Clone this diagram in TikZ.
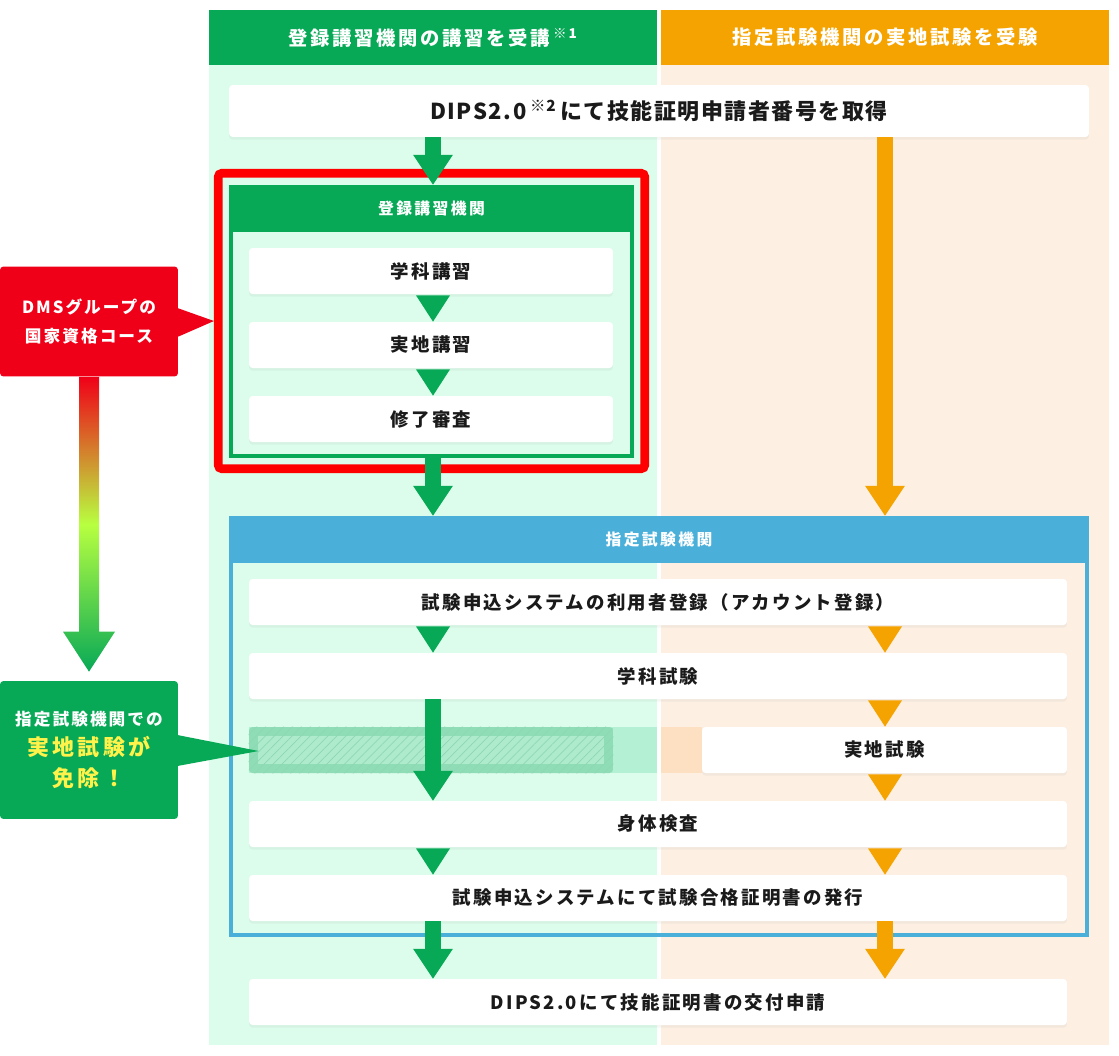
\documentclass[tikz,border=0pt]{standalone}
\usepackage{fontspec}
\setmainfont{Noto Sans CJK JP}
\usepackage{tikz}
\usetikzlibrary{arrows.meta, positioning, calc, shadows, patterns.meta}

\definecolor{kgreen}{HTML}{07A957}
\definecolor{kgreenbg}{HTML}{DCFDEB}
\definecolor{korange}{HTML}{F5A300}
\definecolor{korangebg}{HTML}{FDEFE2}
\definecolor{kblue}{HTML}{4AB0D9}
\definecolor{kred}{HTML}{FF0000}
\definecolor{knote}{HTML}{F00018}
\definecolor{klime}{HTML}{B8FF40}
\definecolor{kyellow}{HTML}{FFF24A}
\definecolor{kink}{HTML}{1A1A1A}
\definecolor{khatch}{HTML}{8EDDB6}
\definecolor{khatchin}{HTML}{AEEBCD}
\definecolor{kbandg}{HTML}{B3F0D4}
\definecolor{kbando}{HTML}{FDDFC1}

\newcommand\headfont{\fontsize{11pt}{12pt}\selectfont\bfseries\addfontfeatures{LetterSpace=14}}
\newcommand\titlefont{\fontsize{12.5pt}{14pt}\selectfont\bfseries\addfontfeatures{LetterSpace=7}}
\newcommand\cardfont{\fontsize{10.5pt}{12pt}\selectfont\bfseries\addfontfeatures{LetterSpace=12}}
\newcommand\groupfont{\fontsize{9pt}{11pt}\selectfont\bfseries\addfontfeatures{LetterSpace=15}}
\newcommand\notefont{\fontsize{9.5pt}{17pt}\selectfont\bfseries\addfontfeatures{LetterSpace=12}}
\newcommand\bignotefont{\fontsize{12.5pt}{17pt}\selectfont\bfseries\addfontfeatures{LetterSpace=14}}
\newcommand\kome[1]{\,\textsuperscript{#1}}
% small triangle between two cards
\newcommand\steptri[4]{\fill[#1] ($(#2 |- #3.south)+(-17,1)$) -- ($(#2 |- #3.south)+(17,1)$) -- (#2 |- #4.north) -- cycle;}

\begin{document}
\begin{tikzpicture}[
  x=0.02cm, y=-0.02cm,
  colhead/.style={minimum width=8.96cm, minimum height=1.1cm, inner sep=0pt, text=white, font=\headfont},
  card/.style={fill=white, rounded corners=2pt, minimum height=0.92cm, inner sep=0pt, text=kink, font=\cardfont,
    drop shadow={opacity=0.08, shadow xshift=0pt, shadow yshift=-1.5pt}},
  grouphead/.style={minimum height=0.94cm, inner sep=0pt, text=white, font=\groupfont},
  groupbox/.style={draw=#1, line width=2.1pt, inner sep=0pt},
  bigflow/.style={draw=#1, line width=9.07pt, -{Triangle[width=22.7pt, length=17pt, line width=0pt]}},
  callout/.style={rounded corners=2pt, minimum width=3.56cm, inner sep=0pt, text=white, align=center, font=\notefont},
]
\useasboundingbox (0,0) rectangle (1119,1055);

% Columns
\fill[kgreenbg] (209,64) rectangle (657,1045);
\fill[korangebg] (661,64) rectangle (1109,1045);
\node[colhead, fill=kgreen] (hg) at (433,37.5) {登録講習機関の講習を受講\kome{※1}};
\node[colhead, fill=korange] (ho) at (885,37.5) {指定試験機関の実地試験を受験};

\node[card, minimum width=17.2cm, minimum height=1.04cm, font=\titlefont] (dips) at (659,111) {DIPS2.0\kome{※2}\,にて技能証明申請者番号を取得};

% Registered course
\node[draw=kred, line width=4.93pt, rounded corners=2pt, minimum width=8.53cm, minimum height=5.91cm, inner sep=0pt] (dms) at (431.5,321) {};
\node[groupbox=kgreen, minimum width=8.03cm, minimum height=5.39cm] (reg) at (431.5,321.5) {};
\node[grouphead, fill=kgreen, minimum width=8.1cm] (regh) at (431.5,208.5) {登録講習機関};
\foreach \n/\y/\t in {c1/271/学科講習, c2/345/実地講習, c3/419/修了審査}
  \node[card, minimum width=7.28cm] (\n) at (431,\y) {\t};

% Examination body
\node[groupbox=kblue, line width=2.27pt, minimum width=17.12cm, minimum height=8.34cm] (test) at (659,726.5) {};
\node[grouphead, fill=kblue, minimum width=17.2cm] (testh) at (659,539.5) {指定試験機関};

\fill[kbandg] (249,727) rectangle (657,773);
\fill[kbando] (661,727) rectangle (702,773);
\node[fill=khatch, rounded corners=2pt, minimum width=7.28cm, minimum height=0.92cm, inner sep=0pt] (ex) at (431,750) {};
\fill[khatchin] (258,736) rectangle (604,764);
\fill[rounded corners=2pt, pattern={Lines[angle=45, distance=3.6pt, line width=0.4pt]}, pattern color=kgreen!45] (ex.north west) rectangle (ex.south east);

\foreach \n/\y/\t in {t1/602/試験申込システムの利用者登録（アカウント登録）, t2/676/学科試験, t4/824/身体検査, t5/898/試験申込システムにて試験合格証明書の発行}
  \node[card, minimum width=16.36cm] (\n) at (658,\y) {\t};
\node[card, minimum width=7.3cm] (t3) at (884.5,750) {実地試験};
\node[card, minimum width=16.36cm] (fin) at (658,1002) {DIPS2.0にて技能証明書の交付申請};

% Flow
\coordinate (gx) at (433,0);
\coordinate (ox) at (885,0);
\draw[bigflow=kgreen] (gx |- dips.south) -- (gx |- regh.north);
\draw[bigflow=korange] (ox |- dips.south) -- (ox |- testh.north);
\draw[bigflow=kgreen] (gx |- reg.south) -- (gx |- testh.north);
\draw[bigflow=kgreen] (gx |- t2.south) -- (gx |- t4.north);
\draw[bigflow=kgreen] (gx |- t5.south) -- (gx |- fin.north);
\draw[bigflow=korange] (ox |- t5.south) -- (ox |- fin.north);
\foreach \a/\b in {c1/c2, c2/c3, t1/t2, t4/t5} {\steptri{kgreen}{gx}{\a}{\b}}
\foreach \a/\b in {t1/t2, t2/t3, t3/t4, t4/t5} {\steptri{korange}{ox}{\a}{\b}}

% Callouts
\node[callout, fill=knote, minimum height=2.2cm] (dmsnote) at (89,321.5) {DMSグループの\\国家資格コース};
\fill[knote] ($(dmsnote.east)+(-1,-13.5)$) -- (dms.west) -- ($(dmsnote.east)+(-1,15.5)$) -- cycle;
\node[callout, fill=kgreen, minimum height=2.76cm] (exnote) at (89,750)
  {指定試験機関での\\{\bignotefont\color{kyellow}実地試験が}\\[1pt]{\bignotefont\color{kyellow}免除！}};
\fill[kgreen] ($(exnote.east)+(-1,-15)$) -- ($(ex.west)+(10,1)$) -- ($(exnote.east)+(-1,16)$) -- cycle;
\shade[top color=knote, bottom color=kgreen, middle color=klime]
  ($(dmsnote.south)+(-10,0)$) -- ($(dmsnote.south)+(10,0)$) -- ($(exnote.north)+(10,-49)$) -- ($(exnote.north)+(26,-49)$)
  -- ($(exnote.north)+(0,-9)$) -- ($(exnote.north)+(-26,-49)$) -- ($(exnote.north)+(-10,-49)$) -- cycle;
\end{tikzpicture}
\end{document}
